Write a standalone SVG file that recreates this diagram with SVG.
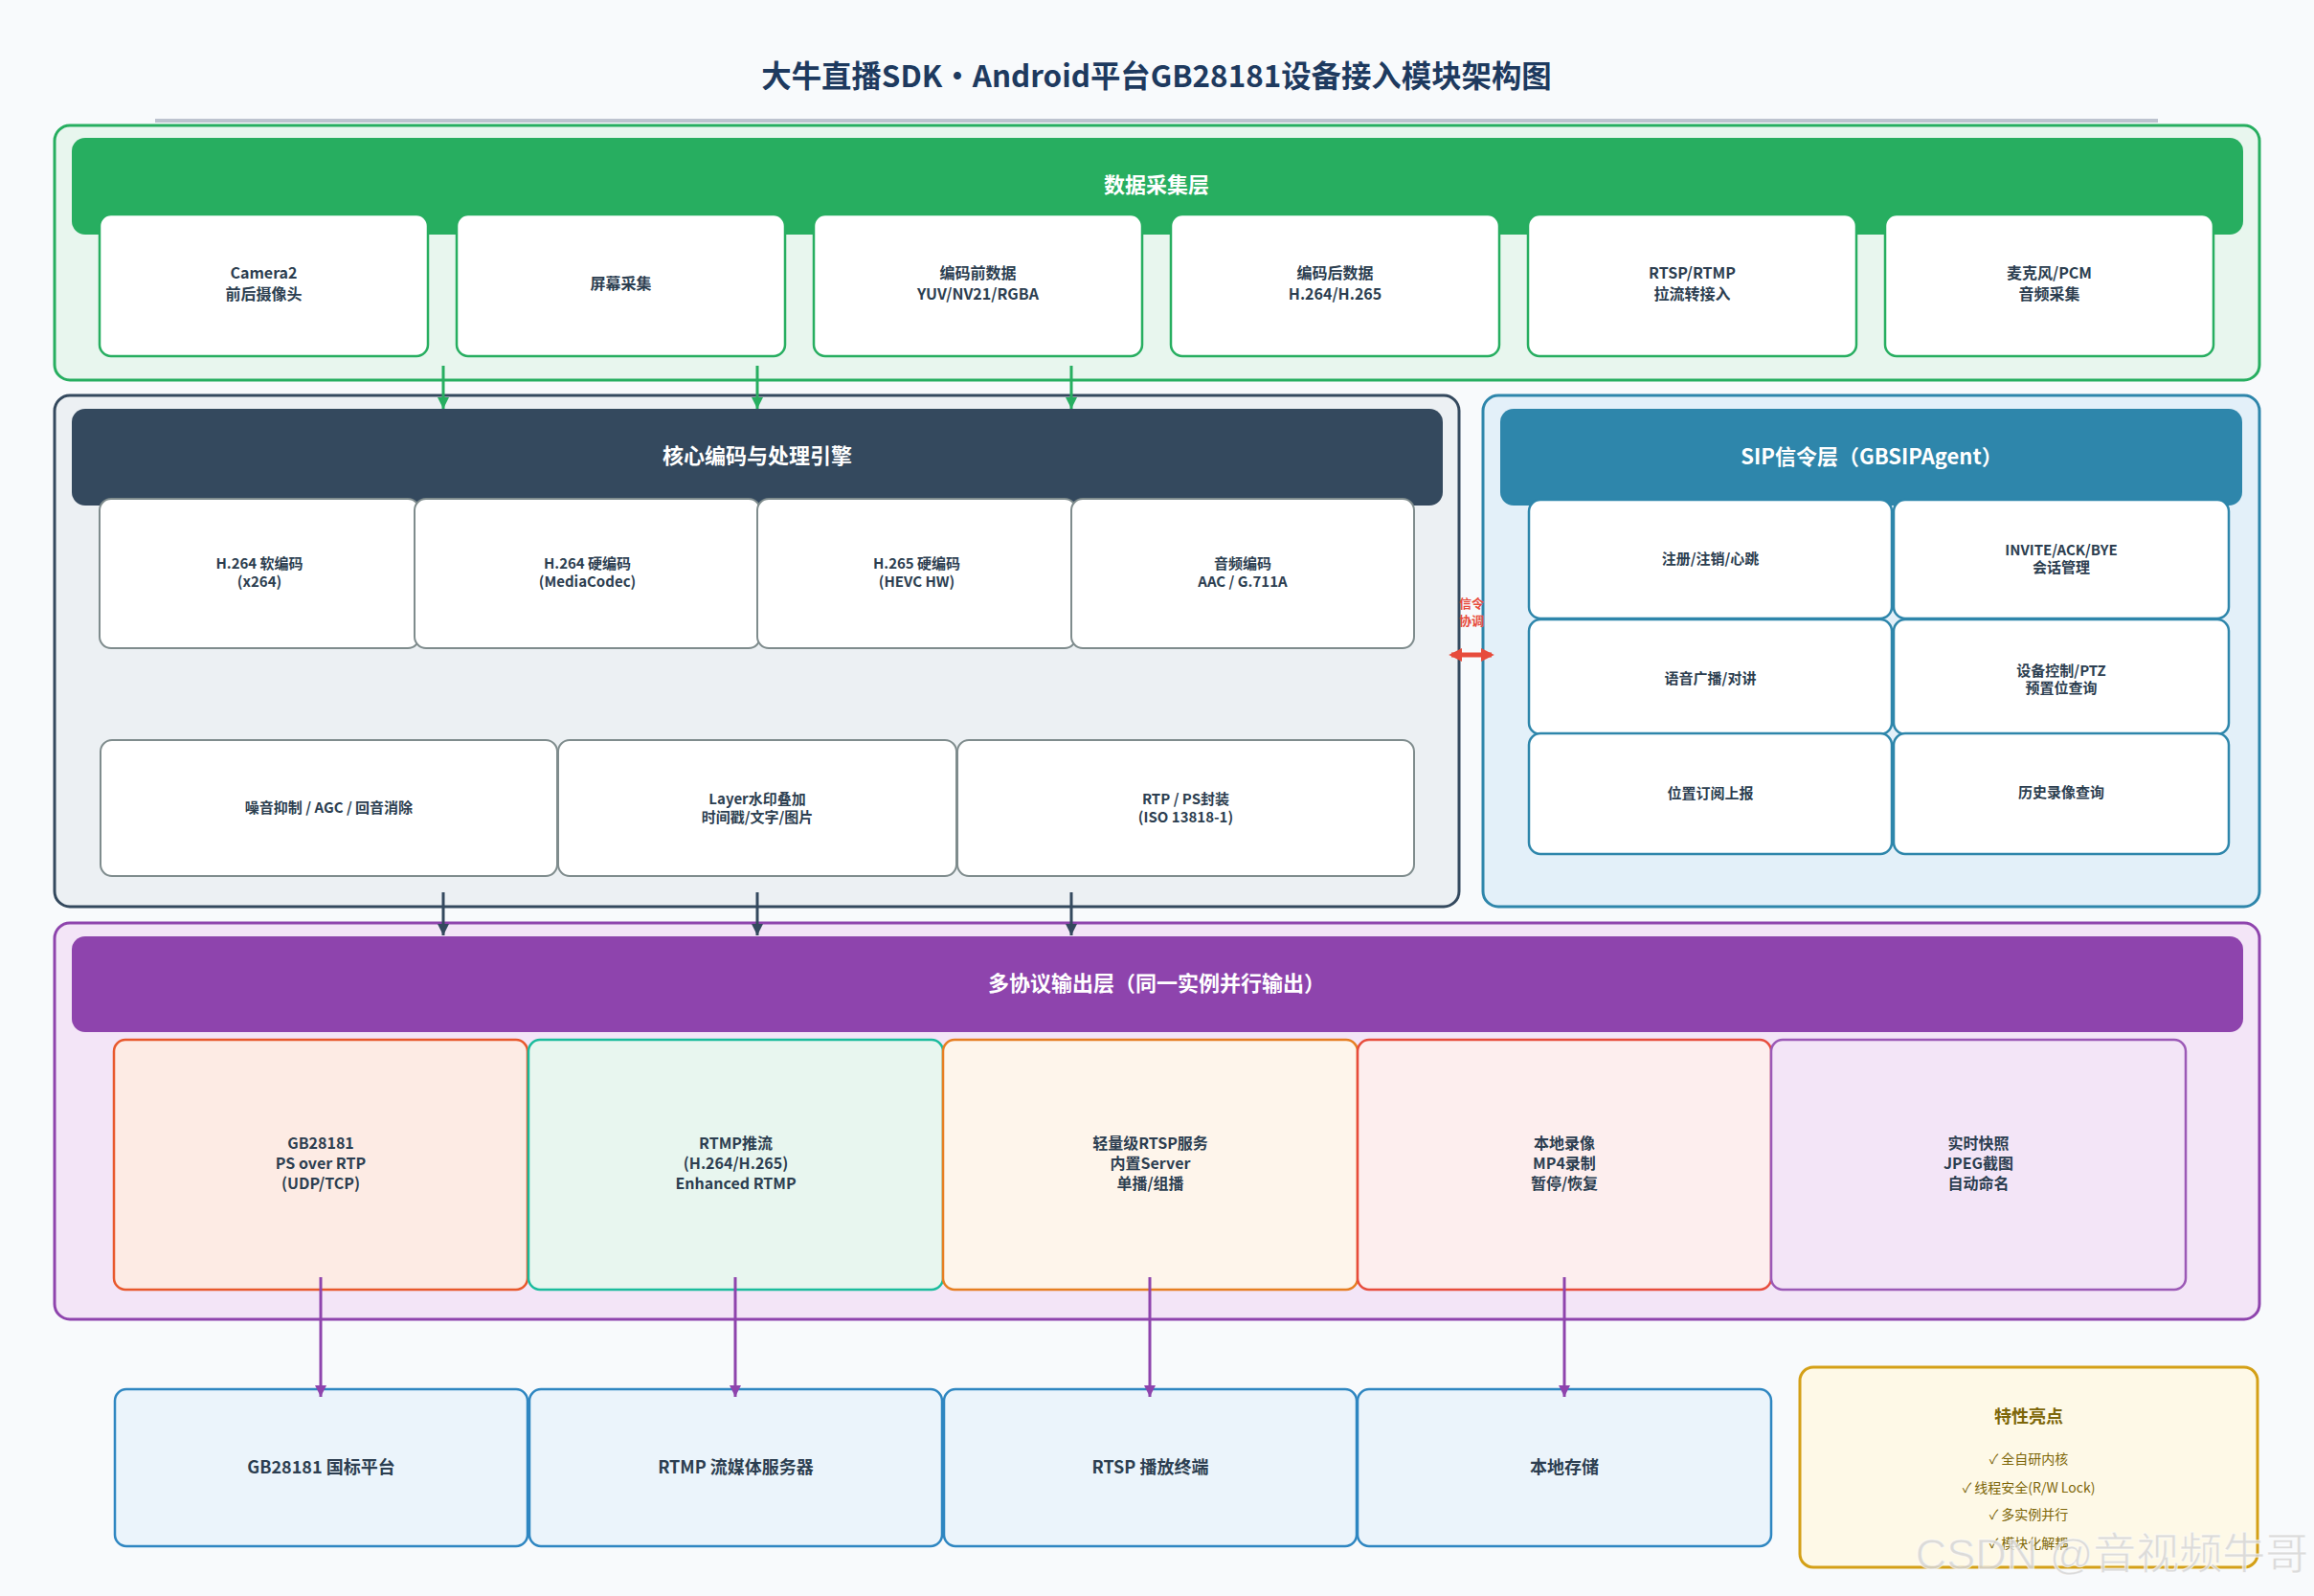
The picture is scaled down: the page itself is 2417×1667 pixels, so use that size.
<svg xmlns="http://www.w3.org/2000/svg" width="2417" height="1667" viewBox="0 0 2417 1667">
<defs>
<style>
text{font-family:"Noto Sans CJK SC","Noto Sans",sans-serif;text-anchor:middle;dominant-baseline:central}
.t{font-weight:700;fill:#2c3e50}
.f16{font-size:16px}.f15{font-size:15px}
.hd{font-size:22px;font-weight:700;fill:#ffffff}
.dc{fill:#ffffff;stroke:#27ae60;stroke-width:2.5}
.cc{fill:#ffffff;stroke:#7f8c8d;stroke-width:2}
.sc{fill:#ffffff;stroke:#2e86ab;stroke-width:2.5}
.bc{fill:#ebf4fb;stroke:#2e86c1;stroke-width:2.5}
.ft{font-size:14px;fill:#7d6608}
</style>
<marker id="ag" viewBox="0 0 10 10" refX="10" refY="5" markerWidth="12" markerHeight="12" markerUnits="userSpaceOnUse" orient="auto"><path d="M0,0 L10,5 L0,10 z" fill="#27ae60"/></marker>
<marker id="ad" viewBox="0 0 10 10" refX="10" refY="5" markerWidth="12" markerHeight="12" markerUnits="userSpaceOnUse" orient="auto"><path d="M0,0 L10,5 L0,10 z" fill="#34495e"/></marker>
<marker id="ap" viewBox="0 0 10 10" refX="10" refY="5" markerWidth="12" markerHeight="12" markerUnits="userSpaceOnUse" orient="auto"><path d="M0,0 L10,5 L0,10 z" fill="#8e44ad"/></marker>
<marker id="ar" viewBox="0 0 10 10" refX="8" refY="5" markerWidth="14" markerHeight="14" markerUnits="userSpaceOnUse" orient="auto-start-reverse"><path d="M0,0 L10,5 L0,10 z" fill="#e74c3c"/></marker>
</defs>
<rect width="2417" height="1667" fill="#f8fafc"/>

<g id="title">
<text x="1208" y="77" style="font-size:31.4px;font-weight:700;fill:#1e3a5f">大牛直播SDK·Android平台GB28181设备接入模块架构图</text>
<rect x="162" y="124" width="2092" height="4" fill="#bdc3cf"/>
</g>

<g id="data-layer">
<rect x="57" y="131" width="2303" height="266" rx="16" fill="#e8f6ee" stroke="#27ae60" stroke-width="3"/>
<rect x="75" y="144" width="2268" height="101" rx="14" fill="#27ae60"/>
<text class="hd" x="1208" y="191">数据采集层</text>
</g>
<g id="cam"><rect class="dc" x="104" y="224" width="343" height="148" rx="12"/><text class="t f16" x="275.5" y="284">Camera2</text><text class="t f16" x="275.5" y="306">前后摄像头</text></g>
<g id="screen"><rect class="dc" x="477" y="224" width="343" height="148" rx="12"/><text class="t f16" x="648.5" y="295">屏幕采集</text></g>
<g id="raw"><rect class="dc" x="850" y="224" width="343" height="148" rx="12"/><text class="t f16" x="1021.5" y="284">编码前数据</text><text class="t f16" x="1021.5" y="306">YUV/NV21/RGBA</text></g>
<g id="enc"><rect class="dc" x="1223" y="224" width="343" height="148" rx="12"/><text class="t f16" x="1394.5" y="284">编码后数据</text><text class="t f16" x="1394.5" y="306">H.264/H.265</text></g>
<g id="pull"><rect class="dc" x="1596" y="224" width="343" height="148" rx="12"/><text class="t f16" x="1767.5" y="284">RTSP/RTMP</text><text class="t f16" x="1767.5" y="306">拉流转接入</text></g>
<g id="mic"><rect class="dc" x="1969" y="224" width="343" height="148" rx="12"/><text class="t f16" x="2140.5" y="284">麦克风/PCM</text><text class="t f16" x="2140.5" y="306">音频采集</text></g>

<g id="core-layer">
<rect x="57" y="413" width="1467" height="534" rx="16" fill="#ecf0f3" stroke="#34495e" stroke-width="3"/>
<rect x="75" y="427" width="1432" height="101" rx="14" fill="#34495e"/>
<text class="hd" x="791" y="474">核心编码与处理引擎</text>
</g>
<g id="x264"><rect class="cc" x="104" y="521" width="334" height="156" rx="12"/><text class="t f15" x="271" y="587">H.264 软编码</text><text class="t f15" x="271" y="606">(x264)</text></g>
<g id="mc264"><rect class="cc" x="433" y="521" width="361" height="156" rx="12"/><text class="t f15" x="613.5" y="587">H.264 硬编码</text><text class="t f15" x="613.5" y="606">(MediaCodec)</text></g>
<g id="hevc"><rect class="cc" x="791" y="521" width="333" height="156" rx="12"/><text class="t f15" x="957.5" y="587">H.265 硬编码</text><text class="t f15" x="957.5" y="606">(HEVC HW)</text></g>
<g id="audio"><rect class="cc" x="1119" y="521" width="358" height="156" rx="12"/><text class="t f15" x="1298" y="587">音频编码</text><text class="t f15" x="1298" y="606">AAC / G.711A</text></g>
<g id="ns"><rect class="cc" x="105" y="773" width="477" height="142" rx="12"/><text class="t f15" x="343.5" y="842">噪音抑制 / AGC / 回音消除</text></g>
<g id="layer"><rect class="cc" x="583" y="773" width="416" height="142" rx="12"/><text class="t f15" x="791" y="833">Layer水印叠加</text><text class="t f15" x="791" y="852">时间戳/文字/图片</text></g>
<g id="rtpps"><rect class="cc" x="1000" y="773" width="477" height="142" rx="12"/><text class="t f15" x="1238.5" y="833">RTP / PS封装</text><text class="t f15" x="1238.5" y="852">(ISO 13818-1)</text></g>

<g id="sip-layer">
<rect x="1549" y="413" width="811" height="534" rx="16" fill="#e3f0f9" stroke="#2e86ab" stroke-width="3"/>
<rect x="1567" y="427" width="775" height="101" rx="14" fill="#2e86ab"/>
<text class="hd" x="1955" y="475">SIP信令层（GBSIPAgent）</text>
</g>
<g id="reg"><rect class="sc" x="1597" y="522" width="379" height="124" rx="12"/><text class="t f15" x="1786.5" y="582">注册/注销/心跳</text></g>
<g id="invite"><rect class="sc" x="1978" y="522" width="350" height="124" rx="12"/><text class="t f15" x="2153" y="573">INVITE/ACK/BYE</text><text class="t f15" x="2153" y="591">会话管理</text></g>
<g id="talk"><rect class="sc" x="1597" y="647" width="379" height="120" rx="12"/><text class="t f15" x="1786.5" y="707">语音广播/对讲</text></g>
<g id="ptz"><rect class="sc" x="1978" y="647" width="350" height="120" rx="12"/><text class="t f15" x="2153" y="699">设备控制/PTZ</text><text class="t f15" x="2153" y="717">预置位查询</text></g>
<g id="pos"><rect class="sc" x="1597" y="766" width="379" height="126" rx="12"/><text class="t f15" x="1786.5" y="827">位置订阅上报</text></g>
<g id="hist"><rect class="sc" x="1978" y="766" width="350" height="126" rx="12"/><text class="t f15" x="2153" y="826">历史录像查询</text></g>

<g id="output-layer">
<rect x="57" y="964" width="2303" height="414" rx="16" fill="#f3e5f7" stroke="#8e44ad" stroke-width="3"/>
<rect x="75" y="978" width="2268" height="100" rx="14" fill="#8e44ad"/>
<text class="hd" x="1208" y="1025">多协议输出层（同一实例并行输出）</text>
</g>
<g id="out-gb"><rect x="119" y="1086" width="432" height="261" rx="12" fill="#fdebe4" stroke="#e8582c" stroke-width="2.5"/><text class="t f16" x="335" y="1193">GB28181</text><text class="t f16" x="335" y="1214">PS over RTP</text><text class="t f16" x="335" y="1235">(UDP/TCP)</text></g>
<g id="out-rtmp"><rect x="552" y="1086" width="433" height="261" rx="12" fill="#e8f6ef" stroke="#1abc9c" stroke-width="2.5"/><text class="t f16" x="768.5" y="1193">RTMP推流</text><text class="t f16" x="768.5" y="1214">(H.264/H.265)</text><text class="t f16" x="768.5" y="1235">Enhanced RTMP</text></g>
<g id="out-rtsp"><rect x="985" y="1086" width="433" height="261" rx="12" fill="#fef5eb" stroke="#e67e22" stroke-width="2.5"/><text class="t f16" x="1201.5" y="1193">轻量级RTSP服务</text><text class="t f16" x="1201.5" y="1214">内置Server</text><text class="t f16" x="1201.5" y="1235">单播/组播</text></g>
<g id="out-rec"><rect x="1418" y="1086" width="432" height="261" rx="12" fill="#fdeeee" stroke="#e74c3c" stroke-width="2.5"/><text class="t f16" x="1634" y="1193">本地录像</text><text class="t f16" x="1634" y="1214">MP4录制</text><text class="t f16" x="1634" y="1235">暂停/恢复</text></g>
<g id="out-snap"><rect x="1850" y="1086" width="433" height="261" rx="12" fill="#f3e5f7" stroke="#9b59b6" stroke-width="2.5"/><text class="t f16" x="2066.5" y="1193">实时快照</text><text class="t f16" x="2066.5" y="1214">JPEG截图</text><text class="t f16" x="2066.5" y="1235">自动命名</text></g>

<g id="dst-gb"><rect class="bc" x="120" y="1451" width="431" height="164" rx="12"/><text class="t" style="font-size:18px" x="335.5" y="1531">GB28181 国标平台</text></g>
<g id="dst-rtmp"><rect class="bc" x="553" y="1451" width="431" height="164" rx="12"/><text class="t" style="font-size:18px" x="768.5" y="1531">RTMP 流媒体服务器</text></g>
<g id="dst-rtsp"><rect class="bc" x="986" y="1451" width="431" height="164" rx="12"/><text class="t" style="font-size:18px" x="1201.5" y="1531">RTSP 播放终端</text></g>
<g id="dst-local"><rect class="bc" x="1418" y="1451" width="432" height="164" rx="12"/><text class="t" style="font-size:18px" x="1634" y="1531">本地存储</text></g>

<g id="features">
<rect x="1880" y="1428" width="478" height="209" rx="14" fill="#fef9e7" stroke="#d4a017" stroke-width="3"/>
<text x="2119" y="1478" style="font-size:18px;font-weight:700;fill:#7d6608">特性亮点</text>
<text class="ft" x="2119" y="1523">✓ 全自研内核</text>
<text class="ft" x="2119" y="1553">✓ 线程安全(R/W Lock)</text>
<text class="ft" x="2119" y="1581">✓ 多实例并行</text>
<text class="ft" x="2119" y="1611">✓ 模块化解耦</text>
</g>

<g id="connectors" fill="none" stroke-width="3">
<path d="M463,382 V427" stroke="#27ae60" marker-end="url(#ag)"/>
<path d="M791,382 V427" stroke="#27ae60" marker-end="url(#ag)"/>
<path d="M1119,382 V427" stroke="#27ae60" marker-end="url(#ag)"/>
<path d="M463,932 V977" stroke="#34495e" marker-end="url(#ad)"/>
<path d="M791,932 V977" stroke="#34495e" marker-end="url(#ad)"/>
<path d="M1119,932 V977" stroke="#34495e" marker-end="url(#ad)"/>
<path d="M335,1334 V1459" stroke="#8e44ad" marker-end="url(#ap)"/>
<path d="M768,1334 V1459" stroke="#8e44ad" marker-end="url(#ap)"/>
<path d="M1201,1334 V1459" stroke="#8e44ad" marker-end="url(#ap)"/>
<path d="M1634,1334 V1459" stroke="#8e44ad" marker-end="url(#ap)"/>
<path d="M1516,684 H1558" stroke="#e74c3c" stroke-width="5" marker-start="url(#ar)" marker-end="url(#ar)"/>
<text x="1537" y="629" style="font-size:13px;font-weight:700;fill:#e74c3c;stroke:none">信令</text>
<text x="1537" y="647" style="font-size:13px;font-weight:700;fill:#e74c3c;stroke:none">协调</text>
</g>

<text x="2206" y="1623" style="font-family:'Liberation Sans','Noto Sans CJK SC',sans-serif;font-size:45px;fill:#d6d6d6;fill-opacity:0.85;stroke:#ffffff;stroke-width:1;stroke-opacity:0.6">CSDN @音视频牛哥</text>
</svg>
